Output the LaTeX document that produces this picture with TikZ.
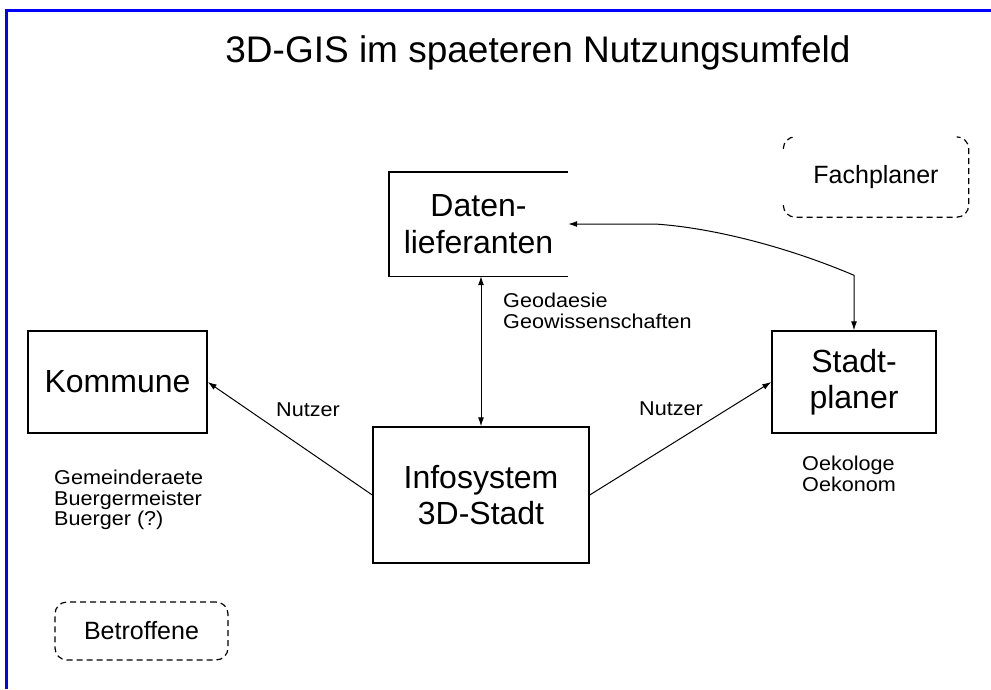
\documentclass[tikz,border=0pt]{standalone}
\usepackage{fontspec}
\setmainfont{Liberation Sans}
\newfontfamily\breitschrift[FakeStretch=1.08]{Liberation Sans}
\usetikzlibrary{arrows.meta}

\begin{document}
\begin{tikzpicture}[x=1pt, y=-1pt,
  kasten/.style={draw, line width=1.4pt, align=center, inner sep=0pt,
    font=\fontsize{32}{36}\selectfont},
  randlos/.style={align=center, inner sep=0pt, font=\fontsize{32}{37}\selectfont},
  gruppe/.style={align=center, inner sep=0pt, font=\fontsize{25}{28}\selectfont},
  strich/.style={line width=1.2pt, dash pattern=on 6pt off 4pt},
  notiz/.style={align=left, anchor=north west, inner sep=0pt,
    font=\breitschrift\fontsize{20}{20.5}\selectfont},
  pfeil/.style={line width=1pt, -{Latex[length=9pt,width=6pt]}},
  doppelpfeil/.style={line width=1pt, {Latex[length=9pt,width=6pt]}-{Latex[length=9pt,width=6pt]}}]
\useasboundingbox (0,0) rectangle (991,689);
\fill[white] (0,0) rectangle (991,689);

% blauer Rahmen
\draw[blue, line width=3pt] (6,689) -- (6,10) -- (991,10);

% Titel
\node[anchor=base, inner sep=0pt, font=\fontsize{37}{40}\selectfont] (titel) at (538,62)
  {3D-GIS im spaeteren Nutzungsumfeld};

% Kaesten
\node[kasten, minimum width=179pt, minimum height=102pt] (kommune) at (117.5,382) {Kommune};
\node[kasten, minimum width=216pt, minimum height=136pt] (info) at (481,495) {Infosystem\\3D-Stadt};
\node[kasten, minimum width=164pt, minimum height=102pt] (stadt) at (854,382) {Stadt-\\planer};
\node[randlos, minimum width=179pt, minimum height=104pt] (daten) at (478.5,224) {Daten-\\lieferanten};
\draw[line width=1.4pt] (daten.north east) -- (daten.north west) -- (daten.south west) -- (daten.south east);

% gestrichelte Gruppen
\node[gruppe, minimum width=185pt, minimum height=80pt] (fach) at (876,177) {Fachplaner};
\draw[strich] ([yshift=-12pt]fach.north west) arc[start angle=180, end angle=90, radius=12pt];
\draw[strich] ([yshift=12pt]fach.south west) arc[start angle=180, end angle=270, radius=12pt]
  -- ([xshift=-12pt]fach.south east) arc[start angle=270, end angle=360, radius=12pt]
  -- ([yshift=-12pt]fach.north east) arc[start angle=0, end angle=90, radius=12pt];
\node[gruppe, draw, strich, rounded corners=12pt, minimum width=173pt, minimum height=58pt]
  (betr) at (141.5,631) {Betroffene};

% Verbindungen
\draw[doppelpfeil] (info.north |- daten.south) -- (info.north);
\draw[pfeil] (info.west) -- (kommune.east);
\draw[pfeil] (info.east) -- (stadt.west);
\coordinate (knick) at ([yshift=55pt]stadt.north);
\coordinate (gerade) at (655,224);
\draw[doppelpfeil] (daten.east) -- (gerade) .. controls (715,228) and (790,248) .. (knick) -- (stadt.north);

% Beschriftungen
\node[notiz] (geo) at (503,293) {Geodaesie\\Geowissenschaften};
\node[notiz, anchor=center] (nutzer1) at (308,410) {Nutzer};
\node[notiz, anchor=center] (nutzer2) at (671,409) {Nutzer};
\node[notiz] (rat) at (54,470) {Gemeinderaete\\Buergermeister\\Buerger (?)};
\node[notiz] (oeko) at (802,456) {Oekologe\\Oekonom};
\end{tikzpicture}
\end{document}
